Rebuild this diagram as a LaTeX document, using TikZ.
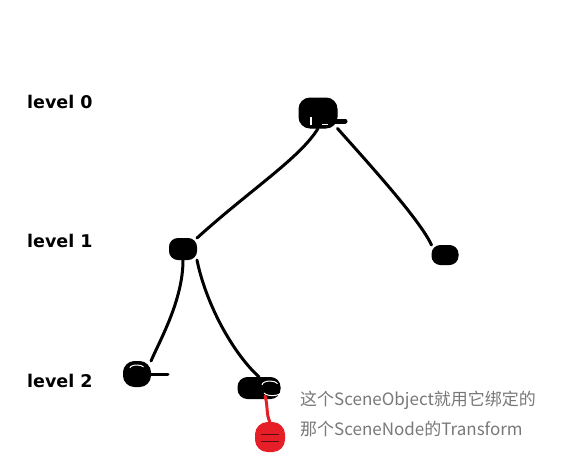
\documentclass[tikz,border=0pt]{standalone}
\usepackage{fontspec}
\setmainfont{DejaVu Sans}
\newfontfamily\cjk{Noto Sans CJK SC}
\usetikzlibrary{shapes.geometric}
\definecolor{notegray}{RGB}{120,120,120}
\definecolor{inkred}{RGB}{230,30,40}
\tikzset{
  blob/.style={rectangle, rounded corners=11pt, fill=black, draw=black, line width=1pt, inner sep=0pt},
  redblob/.style={rectangle, rounded corners=12pt, fill=inkred, draw=inkred, line width=1pt, inner sep=0pt},
  ink/.style={line width=3pt, line cap=round, line join=round, draw=black},
  redink/.style={line width=3pt, line cap=round, draw=inkred},
  lvl/.style={anchor=west, inner sep=0pt, font=\bfseries\fontsize{17.5}{20}\selectfont},
  note/.style={anchor=west, inner sep=0pt, text=notegray, font=\cjk\fontsize{17}{20}\selectfont}
}
\begin{document}
\begin{tikzpicture}[x=1pt,y=-1pt]
\useasboundingbox (0,0) rectangle (561,472);
% nodes
\node[blob, minimum width=38pt, minimum height=30pt] (root) at (318,113) {};
\node[blob, rounded corners=8.5pt, minimum width=27pt, minimum height=21pt] (l1) at (183,249) {};
\node[blob, rounded corners=8.5pt, minimum width=26pt, minimum height=19pt] (r1) at (445,255) {};
\node[blob, rounded corners=11pt, minimum width=27pt, minimum height=25pt] (l2a) at (137,374) {};
\node[blob, rounded corners=9.5pt, minimum width=42pt, minimum height=21pt] (l2b) at (259,388) {};
\node[redblob, minimum width=29pt, minimum height=29pt] (red) at (270,437) {};
\coordinate (tail) at (345,121);
\coordinate (stub) at (168,374);
% scribble details
\draw[ink, line width=5pt] (328,121) -- (tail);
\draw[ink] (l2a.east) -- (stub);
\draw[white, line width=1pt] (262,385) arc (180:20:8pt and 4pt);
\draw[white, line width=1pt] (264,393) arc (200:350:9pt and 4pt);
\draw[white, line width=1pt] (130,368) arc (180:20:7pt and 3pt);
\draw[white, line width=1.2pt] (311,117) -- (311,125);
\draw[white, line width=1pt] (322,124) -- (328,124);
\draw[black!60!inkred, line width=0.6pt] (261,434) -- (279,434) (261,441) -- (279,441);
% connectors
\draw[ink] (root.south) .. controls (300,158) and (250,190) .. (l1.north east);
\draw[ink] (root.south east) .. controls (370,165) and (420,220) .. (r1.north west);
\draw[ink] (l1.south) .. controls (183,300) and (160,340) .. (l2a.north east);
\draw[ink] (l1.south east) .. controls (205,300) and (230,350) .. (l2b.north);
\draw[redink] (265,396) .. controls (268,405) and (266,415) .. (red.north);
% labels
\node[lvl] (lv0) at (27,102) {level 0};
\node[lvl] (lv1) at (27,241) {level 1};
\node[lvl] (lv2) at (27,381) {level 2};
\node[note] (n1) at (300,400) {这个SceneObject就用它绑定的};
\node[note] (n2) at (300,429) {那个SceneNode的Transform};
\end{tikzpicture}
\end{document}
